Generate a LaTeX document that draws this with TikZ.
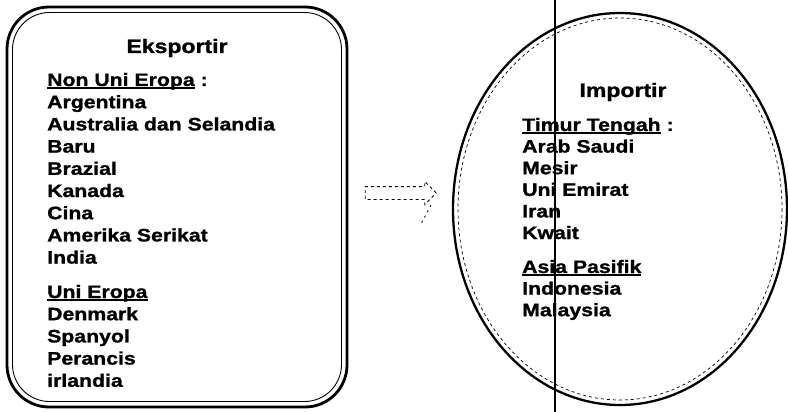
\documentclass[tikz,border=0pt]{standalone}
\usepackage{fontspec}
\setmainfont[FakeStretch=1.18, BoldFeatures={FakeBold=1.2}]{Liberation Sans}
\usetikzlibrary{shapes.arrows}
\newcommand\myul[1]{\setbox0\hbox{#1}\rlap{\rule[-2.6pt]{\wd0}{1.4pt}}\box0}
\begin{document}
\begin{tikzpicture}[x=1pt,y=-1pt,
  txt/.style={anchor=base west, inner sep=0pt, font=\bfseries\fontsize{18}{22}\selectfont},
  headtxt/.style={anchor=base, inner sep=0pt, font=\bfseries\fontsize{19.5}{23}\selectfont},
  outerline/.style={line width=2.8pt, line join=round},
  innerline/.style={line width=0.9pt}]
\useasboundingbox (0,0) rectangle (788,412);
% exporter box
\draw[outerline, rounded corners=42pt] (7,7) rectangle (347,407);
\draw[innerline, rounded corners=37pt] (12.5,12.5) rectangle (341.5,401.5);
\node[headtxt] (eks) at (177,53) {Eksportir};
\node[txt] (nue) at (47,86) {\myul{Non Uni Eropa}~:};
\foreach \t [count=\i] in {Argentina, Australia dan Selandia, Baru, Brazial, Kanada, Cina, Amerika Serikat, India}
  \node[txt] (ea\i) at (47,{86+\i*22.2}) {\t};
\node[txt] (ue) at (47,298) {\myul{Uni Eropa}};
\foreach \t [count=\i] in {Denmark, Spanyol, Perancis, irlandia}
  \node[txt] (eb\i) at (47,{298+\i*22.2}) {\t};
% arrow
\node[single arrow, draw, dashed, line width=0.9pt, minimum height=71pt,
      text height=6pt, text depth=6pt, text width=0pt,
      single arrow head extend=5pt, inner sep=0pt] (arr) at (397.5,193) {};
\coordinate (sh1) at (431,205);
\coordinate (sh2) at (421,224);
\draw[dash pattern=on 2pt off 4pt, line width=0.8pt] (sh1) -- (sh2);
% importer ellipse
\draw[line width=2.3pt] (620,209) ellipse [x radius=167, y radius=196];
\draw[dashed, line width=0.7pt] (620,209) ellipse [x radius=162, y radius=191];
\node[headtxt] (imp) at (623,97) {Importir};
\node[txt] (tt) at (522,131) {\myul{Timur Tengah}~:};
\foreach \t [count=\i] in {Arab Saudi, Mesir, Uni Emirat, Iran, Kwait}
  \node[txt] (ia\i) at (522,{131+\i*21.6}) {\t};
\node[txt] (ap) at (522,273) {\myul{Asia Pasifik}};
\foreach \t [count=\i] in {Indonesia, Malaysia}
  \node[txt] (ib\i) at (522,{273+\i*21.6}) {\t};
% vertical line
\coordinate (vt) at (555,0);
\coordinate (vb) at (555,412);
\draw[line width=1.2pt] (vt) -- (vb);
\end{tikzpicture}
\end{document}
